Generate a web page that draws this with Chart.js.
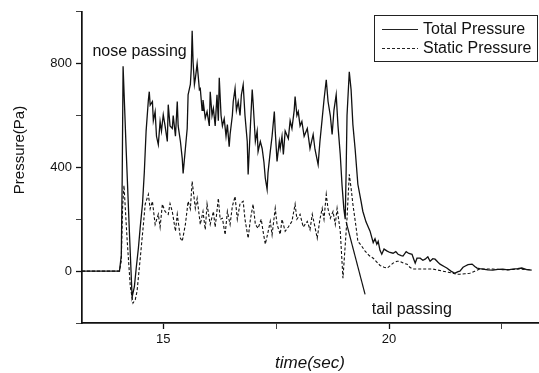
<!DOCTYPE html>
<html lang="en">
<head>
<meta charset="UTF-8">
<title>Total and Static Pressure</title>
<style>
  html, body { margin: 0; padding: 0; background: #fff; }
  #wrap { width: 539px; height: 373px; }
</style>
</head>
<body>
<div id="wrap"><canvas id="pressureChart" width="539" height="373"></canvas></div>

<script src="https://cdn.jsdelivr.net/npm/chart.js"></script>
<script>
// total pressure trace, time (s) / pressure (Pa), written in rows of ten
const totalTime = [
  13.2, 14.03, 14.07, 14.09, 14.11, 14.18, 14.25, 14.31, 14.36, 14.40,
  14.45, 14.49, 14.54, 14.58, 14.62, 14.67, 14.69, 14.71, 14.76, 14.78,
  14.82, 14.85, 14.89, 14.93, 14.96, 15.00, 15.04, 15.09, 15.11, 15.15,
  15.20, 15.22, 15.27, 15.31, 15.33, 15.38, 15.42, 15.44, 15.49, 15.53,
  15.55, 15.60, 15.62, 15.64, 15.66, 15.69, 15.71, 15.75, 15.80, 15.82,
  15.86, 15.88, 15.93, 15.97, 16.02, 16.04, 16.08, 16.11, 16.15, 16.19,
  16.22, 16.24, 16.28, 16.31, 16.35, 16.39, 16.42, 16.46, 16.48, 16.53,
  16.55, 16.59, 16.62, 16.66, 16.70, 16.73, 16.77, 16.81, 16.86, 16.88,
  16.93, 16.97, 16.99, 17.04, 17.08, 17.10, 17.15, 17.19, 17.23, 17.26,
  17.30, 17.32, 17.37, 17.41, 17.46, 17.48, 17.52, 17.57, 17.59, 17.63,
  17.66, 17.70, 17.77, 17.81, 17.85, 17.90, 17.92, 17.96, 17.99, 18.03,
  18.07, 18.12, 18.19, 18.25, 18.32, 18.36, 18.43, 18.47, 18.52, 18.56,
  18.61, 18.65, 18.70, 18.74, 18.78, 18.83, 18.87, 18.92, 18.96, 19.00,
  19.03, 19.05, 19.07, 19.12, 19.16, 19.20, 19.25, 19.31, 19.38, 19.42,
  19.49, 19.58, 19.65, 19.69, 19.73, 19.76, 19.80, 19.84, 19.89, 19.96,
  20.02, 20.09, 20.15, 20.20, 20.27, 20.31, 20.38, 20.44, 20.51, 20.55,
  20.58, 20.62, 20.69, 20.75, 20.80, 20.86, 20.91, 20.97, 21.02, 21.08,
  21.13, 21.22, 21.28, 21.37, 21.46, 21.53, 21.57, 21.64, 21.68, 21.75,
  21.84, 21.90, 21.95, 22.01, 22.08, 22.19, 22.30, 22.41, 22.52, 22.63,
  22.74, 22.85, 22.94, 23.05, 23.16
];
const totalPa = [
  0, 0, 60, 350, 790, 460, 150, -100, -60, 10,
  90, 170, 260, 380, 540, 660, 692, 640, 654, 580,
  615, 520, 488, 577, 540, 603, 560, 500, 642, 560,
  550, 600, 520, 654, 560, 500, 435, 377, 473, 550,
  680, 720, 780, 927, 808, 720, 742, 800, 700, 704,
  620, 660, 590, 615, 560, 692, 600, 627, 560, 680,
  580, 746, 600, 560, 588, 520, 565, 480, 527, 600,
  654, 704, 620, 654, 600, 680, 719, 600, 500, 373,
  560, 700, 650, 500, 540, 461, 500, 473, 420, 358,
  315, 380, 461, 520, 615, 540, 423, 500, 473, 520,
  450, 540, 511, 580, 550, 620, 673, 600, 615, 560,
  577, 520, 550, 473, 527, 470, 411, 500, 588, 660,
  738, 654, 600, 527, 620, 680, 560, 450, 330, 240,
  200, 380, 600, 769, 700, 565, 470, 335, 270, 231,
  190, 154, 110, 125, 104, 115, 80, 65, 85, 77,
  72, 69, 75, 65, 60, 58, 75, 68, 65, 45,
  31, 50, 50, 42, 46, 55, 38, 48, 46, 35,
  27, 18, 12, 0, -8, -2, 0, 15, 19, 25,
  27, 18, 12, 10, 8, 5, 4, 7, 8, 5,
  8, 10, 12, 6, 4
];

// static pressure trace
const staticTime = [
  13.2, 14.03, 14.07, 14.10, 14.13, 14.20, 14.27, 14.33, 14.38, 14.42,
  14.49, 14.56, 14.60, 14.67, 14.71, 14.76, 14.82, 14.89, 14.93, 14.98,
  15.04, 15.11, 15.15, 15.20, 15.27, 15.31, 15.38, 15.42, 15.49, 15.55,
  15.60, 15.64, 15.71, 15.75, 15.82, 15.88, 15.93, 15.97, 16.04, 16.11,
  16.15, 16.22, 16.26, 16.31, 16.37, 16.42, 16.48, 16.53, 16.59, 16.64,
  16.70, 16.77, 16.81, 16.88, 16.93, 16.99, 17.04, 17.10, 17.17, 17.21,
  17.26, 17.32, 17.37, 17.41, 17.48, 17.52, 17.59, 17.63, 17.70, 17.77,
  17.85, 17.92, 17.96, 18.03, 18.10, 18.19, 18.25, 18.30, 18.36, 18.41,
  18.47, 18.52, 18.56, 18.61, 18.65, 18.70, 18.76, 18.81, 18.85, 18.92,
  18.98, 19.03, 19.07, 19.12, 19.16, 19.20, 19.27, 19.31, 19.38, 19.47,
  19.56, 19.65, 19.73, 19.80, 19.89, 19.96, 20.02, 20.09, 20.18, 20.24,
  20.33, 20.40, 20.46, 20.53, 20.64, 20.75, 20.86, 20.97, 21.08, 21.19,
  21.31, 21.41, 21.50, 21.57, 21.68, 21.79, 21.90, 22.01, 22.17, 22.30,
  22.46, 22.68, 22.90, 23.16
];
const staticPa = [
  0, 0, 40, 250, 330, 120, -60, -123, -110, -77,
  50, 180, 258, 296, 240, 269, 180, 219, 170, 258,
  230, 219, 260, 230, 154, 219, 127, 115, 180, 269,
  240, 346, 242, 280, 180, 230, 160, 258, 180, 230,
  170, 281, 200, 204, 140, 230, 180, 250, 288, 200,
  260, 269, 200, 127, 200, 258, 180, 165, 200, 154,
  104, 150, 192, 140, 242, 180, 142, 200, 154, 170,
  192, 258, 200, 219, 170, 192, 160, 219, 170, 127,
  200, 242, 200, 296, 240, 204, 230, 180, 242, 154,
  -27, 100, 204, 373, 320, 258, 170, 115, 100, 77,
  60, 50, 35, 22, 15, 12, 20, 31, 38, 38,
  30, 27, 15, 8, 8, 8, 8, 8, 4, 0,
  -4, -8, -12, -12, -10, -8, 0, 8, 8, 8,
  6, 6, 8, 5
];

// pointer line down to the "tail passing" note
const tailTime = [19.05, 19.47];
const tailPa = [190, -90];

const seriesLabels = ['Total Pressure', 'Static Pressure'];
const noteLabels = ['nose passing', 'tail passing'];
const noteTime = [13.43, 19.62];
const notePa = [831, -165];

const xTickValues = [15, 17.5, 20, 22.5];
const xTickLabels = ['15', '', '20', ''];
const yTickValues = [-200, 0, 200, 400, 600, 800, 1000];
const yTickLabels = ['', '0', '', '400', '', '800', ''];

const FONT = '"Liberation Sans", Arial, Helvetica, sans-serif';
const INK = '#111';

const toPoints = (xs, ys) => xs.map((t, i) => ({ x: t, y: ys[i] }));
// unlabelled ticks are drawn lighter
const tickWeight = labels => ctx => (labels[ctx.index] ? 1.3 : 0.8);

// notes, y title and the framed legend in the top-right corner
const decorations = {
  id: 'decorations',
  afterDraw(chart) {
    const { ctx, scales: { x, y } } = chart;
    ctx.save();
    ctx.fillStyle = INK;

    ctx.font = '16px ' + FONT;
    ctx.textAlign = 'left';
    ctx.textBaseline = 'alphabetic';
    noteLabels.forEach((txt, i) => {
      ctx.fillText(txt, x.getPixelForValue(noteTime[i]), y.getPixelForValue(notePa[i]));
    });

    ctx.save();
    ctx.translate(20, 150);
    ctx.rotate(-Math.PI / 2);
    ctx.font = '15px ' + FONT;
    ctx.textAlign = 'center';
    ctx.textBaseline = 'middle';
    ctx.fillText('Pressure(Pa)', 0, 0);
    ctx.restore();

    ctx.strokeStyle = '#222';
    ctx.lineWidth = 1;
    ctx.strokeRect(374.5, 15.5, 163, 46);
    ctx.font = '16px ' + FONT;
    ctx.textBaseline = 'middle';
    chart.data.datasets.slice(0, 2).forEach((ds, i) => {
      const ly = 29.5 + i * 19;
      ctx.setLineDash(ds.borderDash || []);
      ctx.beginPath();
      ctx.moveTo(382, ly);
      ctx.lineTo(418, ly);
      ctx.stroke();
      ctx.setLineDash([]);
      ctx.fillText(ds.label, 423, ly + 0.5);
    });
    ctx.restore();
  }
};

new Chart(document.getElementById('pressureChart'), {
  type: 'line',
  data: {
    datasets: [
      {
        label: seriesLabels[0],
        data: toPoints(totalTime, totalPa),
        borderColor: INK,
        borderWidth: 1.3,
        pointRadius: 0,
        tension: 0
      },
      {
        label: seriesLabels[1],
        data: toPoints(staticTime, staticPa),
        borderColor: INK,
        borderWidth: 1.1,
        borderDash: [3, 2],
        pointRadius: 0,
        tension: 0
      },
      {
        label: '',
        data: toPoints(tailTime, tailPa),
        borderColor: INK,
        borderWidth: 1.2,
        pointRadius: 0
      }
    ]
  },
  options: {
    responsive: false,
    animation: false,
    devicePixelRatio: 1,
    layout: { padding: { top: 10, right: 1, left: 0, bottom: 0 } },
    plugins: {
      legend: { display: false },
      tooltip: { enabled: false }
    },
    scales: {
      x: {
        type: 'linear',
        min: 13.2,
        max: 23.3,
        afterFit: s => { s.height = 50; },
        afterBuildTicks: s => { s.ticks = xTickValues.map(v => ({ value: v })); },
        grid: { drawOnChartArea: false, tickLength: 6, tickColor: INK, tickWidth: tickWeight(xTickLabels) },
        border: { display: true, color: INK, width: 1.7 },
        ticks: {
          autoSkip: false,
          maxRotation: 0,
          padding: 3,
          color: INK,
          font: { family: FONT, size: 13 },
          callback: (v, i) => xTickLabels[i]
        },
        title: {
          display: true,
          text: 'time(sec)',
          color: INK,
          font: { family: FONT, size: 17, style: 'italic' },
          padding: { top: 0, bottom: 0 }
        }
      },
      y: {
        min: -200,
        max: 1000,
        afterFit: s => { s.width = 82; },
        afterBuildTicks: s => { s.ticks = yTickValues.map(v => ({ value: v })); },
        grid: { drawOnChartArea: false, tickLength: 6, tickColor: INK, tickWidth: tickWeight(yTickLabels) },
        border: { display: true, color: INK, width: 1.7 },
        ticks: {
          autoSkip: false,
          padding: 4,
          color: INK,
          font: { family: FONT, size: 13 },
          callback: (v, i) => yTickLabels[i]
        }
      }
    }
  },
  plugins: [decorations]
});
</script>
</body>
</html>
